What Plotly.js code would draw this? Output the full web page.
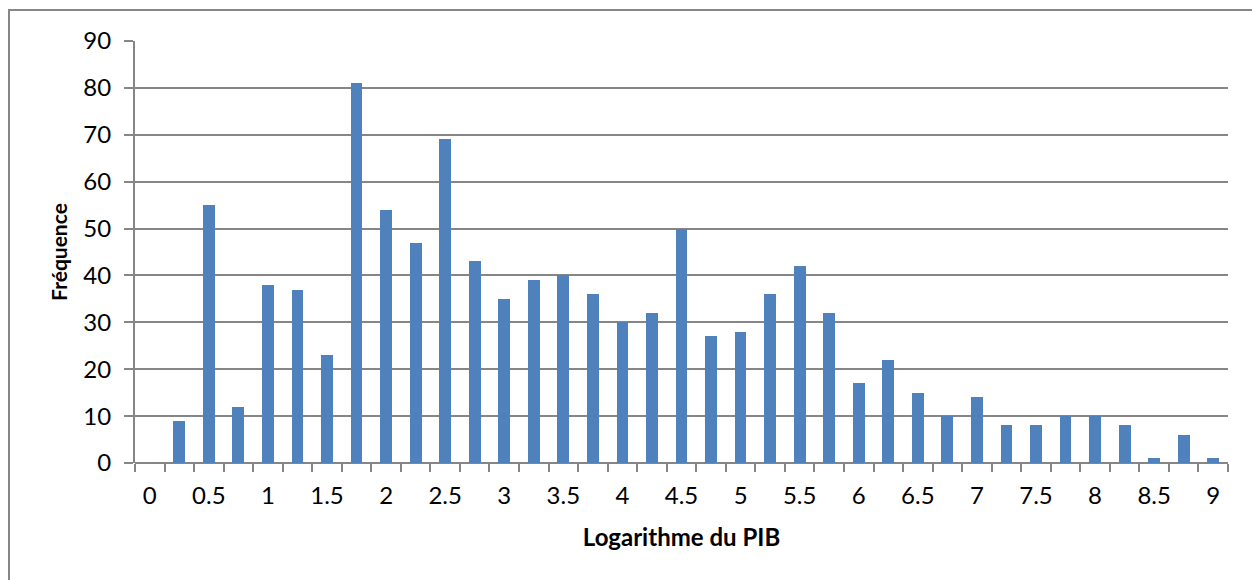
<!DOCTYPE html>
<html><head><meta charset="utf-8">
<script src="https://cdn.plot.ly/plotly-3.0.1.min.js"></script>
<style>html,body{margin:0;padding:0;background:#fff}#chart{width:1252px;height:580px}</style>
</head><body><div id="chart"></div>
<script>
const categories = [0,0.25,0.5,0.75,1,1.25,1.5,1.75,2,2.25,2.5,2.75,3,3.25,3.5,3.75,4,4.25,4.5,4.75,5,5.25,5.5,5.75,6,6.25,6.5,6.75,7,7.25,7.5,7.75,8,8.25,8.5,8.75,9];
const frequencies = [0,9,55,12,38,37,23,81,54,47,69,43,35,39,40,36,30,32,50,27,28,36,42,32,17,22,15,10,14,8,8,10,10,8,1,6,1];
const tickLabels = ['0','0.5','1','1.5','2','2.5','3','3.5','4','4.5','5','5.5','6','6.5','7','7.5','8','8.5','9'];
const tickValues = [0,0.5,1,1.5,2,2.5,3,3.5,4,4.5,5,5.5,6,6.5,7,7.5,8,8.5,9];

const step = 0.25;
const boundaries = categories.map(c => c - step/2).concat([categories[categories.length-1] + step/2]);
const FONT = 'Lato, "Open Sans", sans-serif';
const GRAY = '#868686';

const data = [{
  type: 'bar', x: categories, y: frequencies, width: 0.1,
  marker: {color: '#4F81BD'}, hoverinfo: 'x+y', showlegend: false
}, {
  type: 'bar', x: [0], y: [0], xaxis: 'x2', yaxis: 'y', showlegend: false,
  hoverinfo: 'skip', marker: {color: 'rgba(0,0,0,0)'}
}];

const layout = {
  width: 1252, height: 580,
  margin: {l: 135, r: 24, t: 41, b: 117},
  paper_bgcolor: '#ffffff', plot_bgcolor: '#ffffff',
  font: {family: FONT, color: '#000000', size: 24},
  xaxis: {
    range: [boundaries[0], boundaries[boundaries.length-1]],
    tickmode: 'array', tickvals: tickValues, ticktext: tickLabels,
    ticks: '', ticklabelstandoff: 16, showgrid: false, zeroline: false, showline: false,
    tickfont: {size: 24},
    title: {text: 'Logarithme du PIB', font: {size: 24, family: FONT, weight: 'bold'}, standoff: 21}
  },
  xaxis2: {
    overlaying: 'x', matches: 'x', side: 'bottom', anchor: 'y',
    range: [boundaries[0], boundaries[boundaries.length-1]],
    tickmode: 'array', tickvals: boundaries, showticklabels: false,
    ticks: 'outside', ticklen: 8, tickwidth: 2, tickcolor: GRAY,
    showgrid: false, zeroline: false, showline: false
  },
  yaxis: {
    range: [0, 90], dtick: 10, tick0: 0,
    ticks: 'outside', ticklen: 9, tickwidth: 2, tickcolor: GRAY,
    ticklabelstandoff: 8,
    showgrid: true, gridcolor: GRAY, gridwidth: 2,
    zeroline: true, zerolinecolor: GRAY, zerolinewidth: 2,
    showline: true, linecolor: GRAY, linewidth: 2,
    tickfont: {size: 24},
    title: {text: 'Fréquence', font: {size: 21, family: FONT, weight: 'bold'}, standoff: 10}
  },
  shapes: [{
    type: 'rect', xref: 'paper', yref: 'paper',
    x0: (9-135)/1093, x1: 1.2, y0: -0.5, y1: (463-10)/422,
    line: {color: GRAY, width: 2}, fillcolor: 'rgba(0,0,0,0)', layer: 'below'
  }],
  bargap: 0
};
Plotly.newPlot('chart', data, layout, {displayModeBar: false, staticPlot: true});
</script></body></html>
